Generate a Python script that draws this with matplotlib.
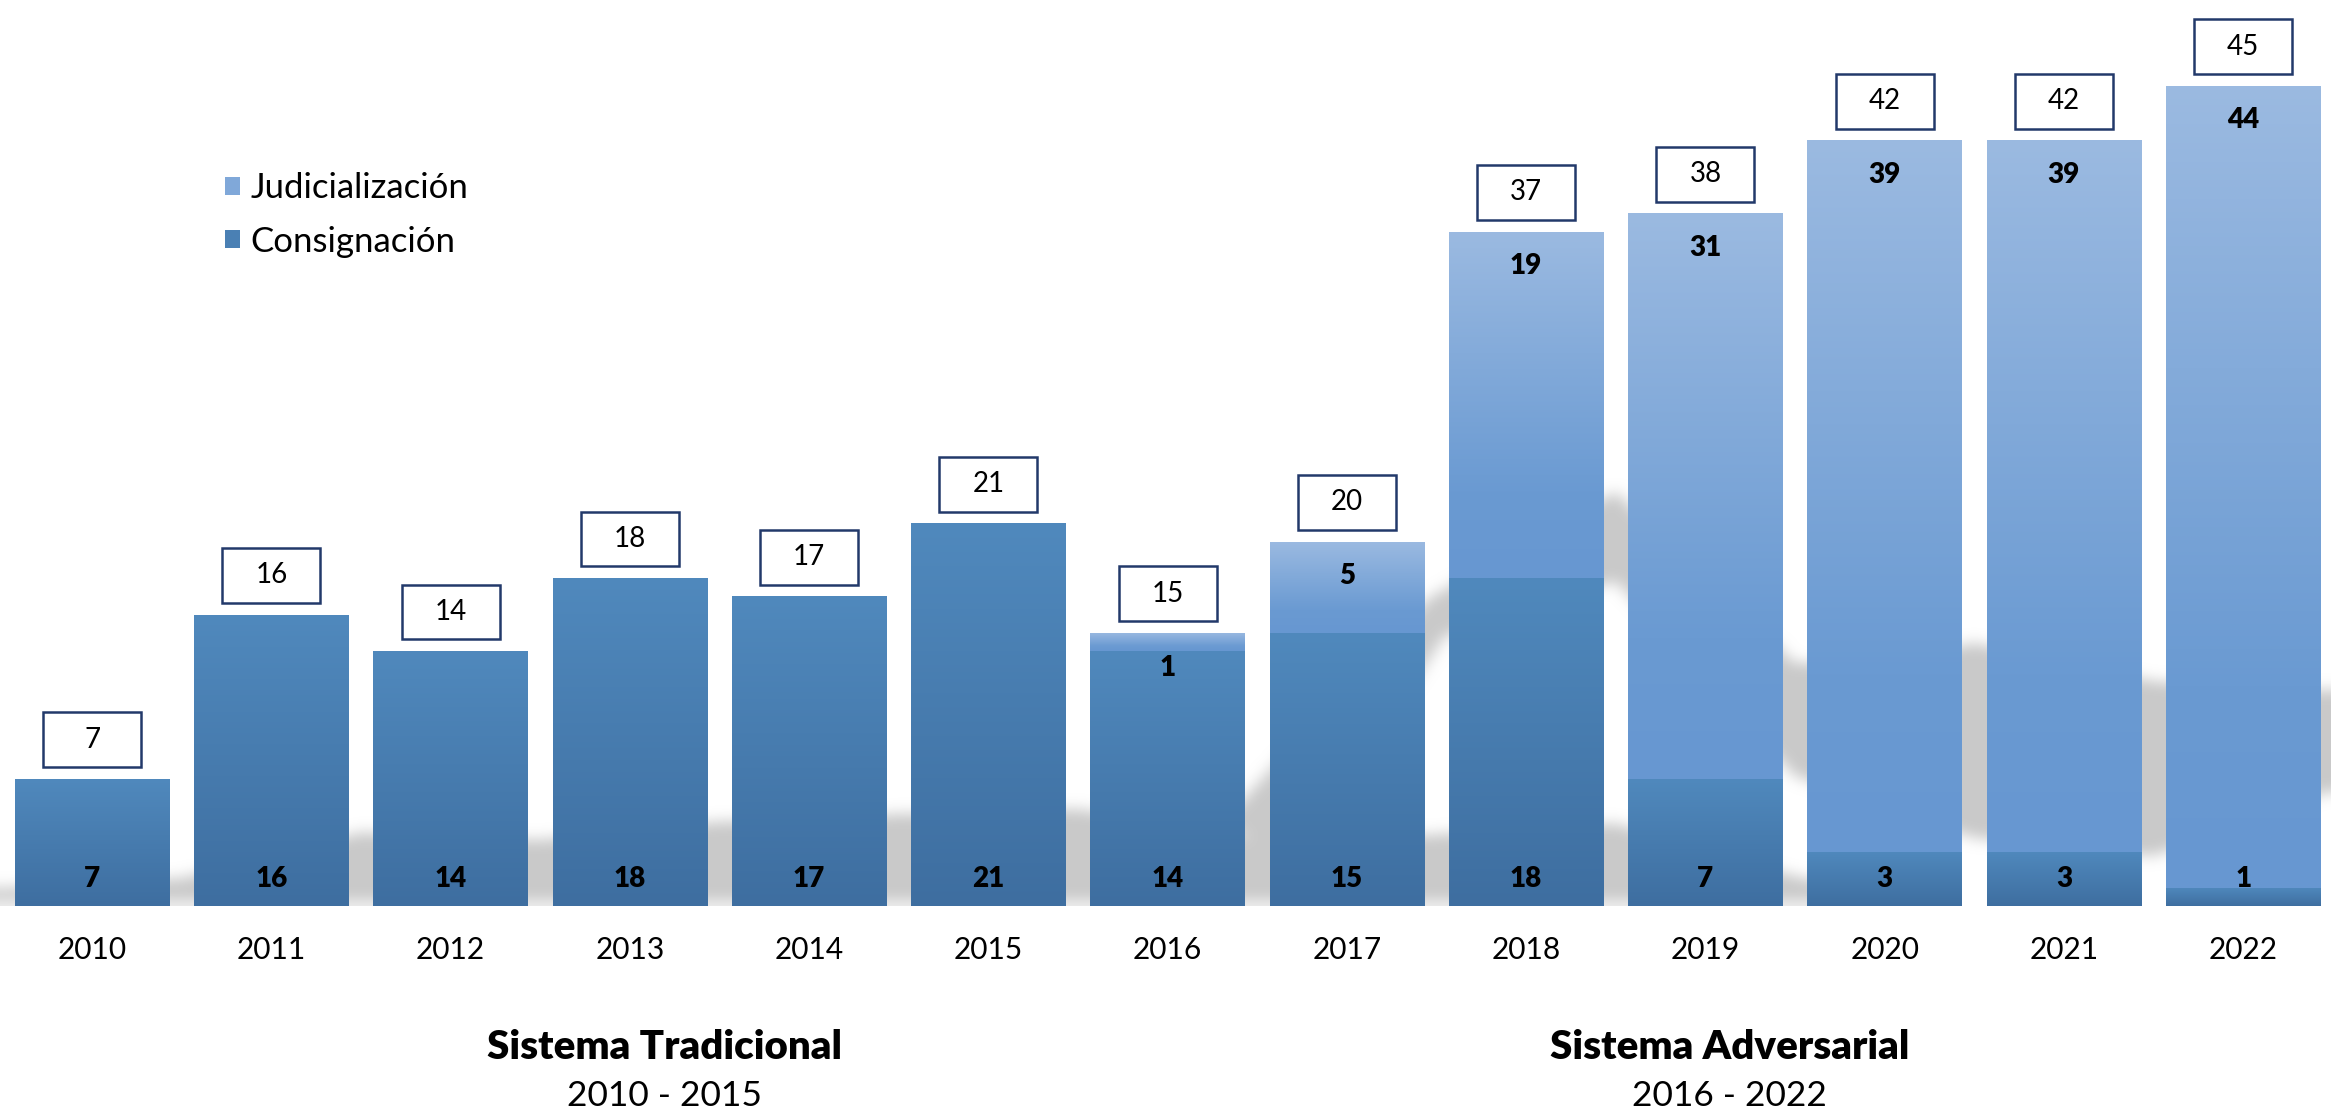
import numpy as np
import matplotlib
matplotlib.use("Agg")
import matplotlib.pyplot as plt
from matplotlib.colors import LinearSegmentedColormap
from matplotlib.patches import Patch, Rectangle
from matplotlib.path import Path

plt.rcParams["font.family"] = ["Lato", "DejaVu Sans"]

years = ["2010", "2011", "2012", "2013", "2014", "2015", "2016",
         "2017", "2018", "2019", "2020", "2021", "2022"]
consignacion = [7, 16, 14, 18, 17, 21, 14, 15, 18, 7, 3, 3, 1]
judicializacion = [0, 0, 0, 0, 0, 0, 1, 5, 19, 31, 39, 39, 44]
totales = [7, 16, 14, 18, 17, 21, 15, 20, 37, 38, 42, 42, 45]

# decorative grey arrow shadow behind the bars (data coords)
floor_shadow = [(-0.6, 0.2), (-0.6, 0.9), (0.5, 1.5), (1.5, 4.0), (2.5, 3.6),
                (3.5, 4.6), (4.5, 5.0), (5.5, 5.3), (6.5, 3.6), (7.5, 3.9),
                (8.5, 4.5), (9.5, 1.6), (10.2, 0.3), (10.2, 0.2)]
arrow_shadow = [(6.3, 4.5), (7.45, 16.8), (8.5, 22.7), (9.5, 13.3), (10.0, 13.2),
                (10.5, 14.4), (11.5, 12.3), (12.5, 11.8), (13.3, 9.0),
                (12.5, 6.3), (11.5, 2.7), (10.5, 3.7), (9.5, 7.1), (8.5, 17.8),
                (7.55, 14.8), (6.7, 2.5)]

XLIM = (-0.514, 12.49)
YLIM = (0, 49.7)

cons_cmap = LinearSegmentedColormap.from_list(
    "cons", [(0, "#3E6EA0"), (1, "#5089BD")])
jud_cmap = LinearSegmentedColormap.from_list(
    "jud", [(0, "#6797D1"), (0.25, "#6A9AD2"), (1, "#9BBAE1")])


def box_blur(a, r, axis):
    c = np.cumsum(np.pad(a, [(r + 1, r) if i == axis else (0, 0) for i in range(2)],
                         mode="edge"), axis=axis)
    n = a.shape[axis]
    hi = np.take(c, np.arange(2 * r + 1, 2 * r + 1 + n), axis=axis)
    lo = np.take(c, np.arange(0, n), axis=axis)
    return (hi - lo) / (2 * r + 1)


def draw_shadow(ax):
    nx, ny = 1400, 600
    xs = np.linspace(XLIM[0], XLIM[1], nx)
    ys = np.linspace(YLIM[0], YLIM[1], ny)
    gx, gy = np.meshgrid(xs, ys)
    pts = np.column_stack([gx.ravel(), gy.ravel()])
    mask = np.zeros(nx * ny)
    for poly in (floor_shadow, arrow_shadow):
        mask = np.maximum(mask, Path(poly).contains_points(pts))
    mask = mask.reshape(ny, nx).astype(float)
    for _ in range(3):
        mask = box_blur(mask, 4, 1)
        mask = box_blur(mask, 4, 0)
    rgba = np.zeros((ny, nx, 4))
    rgba[..., :3] = 0.79
    rgba[..., 3] = mask
    ax.imshow(rgba, extent=(XLIM[0], XLIM[1], YLIM[0], YLIM[1]), origin="lower",
              aspect="auto", zorder=1, interpolation="bilinear")


def gradient_fill(ax, bars, cmap):
    grad = np.linspace(0, 1, 256).reshape(-1, 1)
    for p in bars.patches:
        h = p.get_height()
        if h <= 0:
            continue
        x0, y0, w = p.get_x(), p.get_y(), p.get_width()
        im = ax.imshow(grad, cmap=cmap, extent=(x0, x0 + w, y0, y0 + h),
                       origin="lower", aspect="auto", zorder=3,
                       interpolation="bicubic")
        im.set_clip_path(p)


fig = plt.figure(figsize=(23.31, 11.10), dpi=100)
ax = fig.add_axes([0, 0.1834, 1, 0.8166])

x = np.arange(len(years))
width = 0.862

draw_shadow(ax)

b1 = ax.bar(x, consignacion, width, color="#4A80B4", zorder=2, linewidth=0)
b2 = ax.bar(x, judicializacion, width, bottom=consignacion, color="#80A8D9",
            zorder=2, linewidth=0)
gradient_fill(ax, b1, cons_cmap)
gradient_fill(ax, b2, jud_cmap)

# labels inside segments
for i in range(len(years)):
    ax.text(x[i], 1.5, str(consignacion[i]), ha="center", va="center",
            fontsize=20, fontweight="heavy", color="black", zorder=5)
    if judicializacion[i] > 0:
        ax.text(x[i], totales[i] - 1.9, str(judicializacion[i]), ha="center",
                va="center", fontsize=20, fontweight="heavy", color="black",
                zorder=5)

# total boxes
box_w, box_h, gap = 0.547, 3.0, 0.65
for i in range(len(years)):
    ax.add_patch(Rectangle((x[i] - box_w / 2, totales[i] + gap), box_w, box_h,
                           facecolor="white", edgecolor="#22396A", linewidth=1.8,
                           zorder=5, clip_on=False))
    ax.text(x[i], totales[i] + gap + box_h / 2, str(totales[i]), ha="center",
            va="center", fontsize=20, fontweight="normal", color="black",
            zorder=6)

ax.set_xlim(*XLIM)
ax.set_ylim(*YLIM)
ax.set_xticks(x)
ax.set_xticklabels(years, fontsize=21.5)
ax.tick_params(axis="x", length=0, pad=21)
ax.set_yticks([])
for s in ax.spines.values():
    s.set_visible(False)

handles = [Patch(facecolor="#80A8D9"), Patch(facecolor="#4A80B4")]
fig.legend(handles, ["Judicialización", "Consignación"], loc="upper left",
           bbox_to_anchor=(0.0965, 0.845), frameon=False, fontsize=25,
           handlelength=0.42, handleheight=0.42, handletextpad=0.32,
           labelspacing=0.62, borderpad=0, borderaxespad=0)

fig.text(0.285, 0.056, "Sistema Tradicional", ha="center", va="center",
         fontsize=29, fontweight="heavy")
fig.text(0.285, 0.013, "2010 - 2015", ha="center", va="center", fontsize=25.5)
fig.text(0.742, 0.056, "Sistema Adversarial", ha="center", va="center",
         fontsize=29, fontweight="heavy")
fig.text(0.742, 0.013, "2016 - 2022", ha="center", va="center", fontsize=25.5)

fig.savefig("out.png", dpi=100)
